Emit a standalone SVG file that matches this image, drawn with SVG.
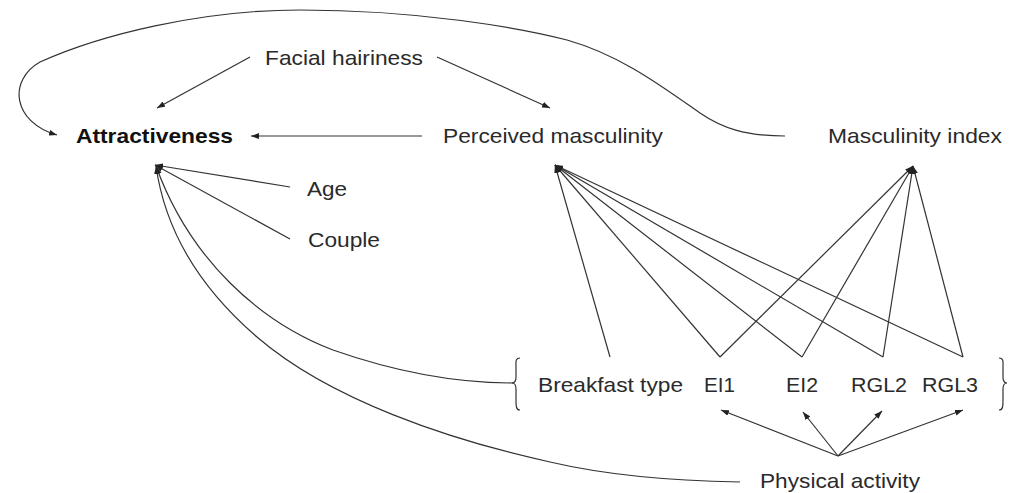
<svg xmlns="http://www.w3.org/2000/svg" width="1021" height="493" viewBox="0 0 1021 493">
  <defs>
    <marker id="ah" viewBox="0 0 8 6" refX="8" refY="3" markerWidth="8" markerHeight="6" markerUnits="userSpaceOnUse" orient="auto">
      <path d="M0,0 L8,3 L0,6 z" fill="#222"/>
    </marker>
    <style>
      .lbl { font-family: "Liberation Sans", Arial, sans-serif; font-size: 21px; fill: #2a2a2a; }
      .bold { font-weight: bold; fill: #111; }
      .c { fill: none; stroke: #333; stroke-width: 1.2; }
      .a { marker-end: url(#ah); }
    </style>
  </defs>
  <rect width="1021" height="493" fill="#fff"/>

  <g id="connectors">
    <line class="c a" x1="250" y1="57" x2="157" y2="108"/>
    <line class="c a" x1="437" y1="57" x2="550" y2="108"/>
    <line class="c a" x1="422" y1="136" x2="251" y2="136"/>
    <path class="c a" d="M785,136 C745,136 722,128 700,113 C660,85 620,55 567,40 C520,28 420,10 300,10 C200,10 100,35 40,62 C8,80 12,122 57,135"/>
    <line class="c a" x1="290" y1="187" x2="155" y2="165"/>
    <line class="c a" x1="290" y1="239" x2="155" y2="165"/>
    <path class="c a" d="M513,383 C450,383 390,370 333,350 C260,322 190,260 156,166"/>
    <path class="c a" d="M740,482 C680,481 610,476 550,462 C450,440 330,400 257,337 C200,288 165,230 156,166"/>
    <line class="c a" x1="610" y1="357" x2="555" y2="165"/>
    <line class="c a" x1="720" y1="357" x2="555" y2="165"/>
    <line class="c a" x1="802" y1="357" x2="555" y2="165"/>
    <line class="c a" x1="883" y1="357" x2="555" y2="165"/>
    <line class="c a" x1="963" y1="357" x2="555" y2="165"/>
    <line class="c a" x1="720" y1="357" x2="913" y2="166"/>
    <line class="c a" x1="802" y1="357" x2="913" y2="166"/>
    <line class="c a" x1="883" y1="357" x2="913" y2="166"/>
    <line class="c a" x1="963" y1="357" x2="913" y2="166"/>
    <line class="c a" x1="838" y1="456" x2="721" y2="410"/>
    <line class="c a" x1="838" y1="456" x2="803" y2="412"/>
    <line class="c a" x1="838" y1="456" x2="882" y2="411"/>
    <line class="c a" x1="838" y1="456" x2="963" y2="410"/>
    <path class="c" d="M520,358 C515,358 516,362 516,367 L516,377 C516,381 515,383 512,383 C515,383 516,385 516,389 L516,400 C516,406 516,410 520,410"/>
    <path class="c" d="M999,358 C1004,358 1003,362 1003,367 L1003,377 C1003,381 1004,383 1007,383 C1004,383 1003,385 1003,389 L1003,400 C1003,406 1003,410 999,410"/>
  </g>

  <g id="node-facial-hairiness"><text class="lbl" x="265" y="65" textLength="158" lengthAdjust="spacingAndGlyphs">Facial hairiness</text></g>
  <g id="node-attractiveness"><text class="lbl bold" x="76" y="143" textLength="157" lengthAdjust="spacingAndGlyphs">Attractiveness</text></g>
  <g id="node-perceived-masculinity"><text class="lbl" x="443" y="143" textLength="220" lengthAdjust="spacingAndGlyphs">Perceived masculinity</text></g>
  <g id="node-masculinity-index"><text class="lbl" x="828" y="143" textLength="174" lengthAdjust="spacingAndGlyphs">Masculinity index</text></g>
  <g id="node-age"><text class="lbl" x="307" y="196" textLength="40" lengthAdjust="spacingAndGlyphs">Age</text></g>
  <g id="node-couple"><text class="lbl" x="308" y="247" textLength="72" lengthAdjust="spacingAndGlyphs">Couple</text></g>
  <g id="node-breakfast-type"><text class="lbl" x="538" y="392" textLength="145" lengthAdjust="spacingAndGlyphs">Breakfast type</text></g>
  <g id="node-ei1"><text class="lbl" x="704" y="392" textLength="31" lengthAdjust="spacingAndGlyphs">EI1</text></g>
  <g id="node-ei2"><text class="lbl" x="786" y="392" textLength="32" lengthAdjust="spacingAndGlyphs">EI2</text></g>
  <g id="node-rgl2"><text class="lbl" x="851" y="392" textLength="56" lengthAdjust="spacingAndGlyphs">RGL2</text></g>
  <g id="node-rgl3"><text class="lbl" x="922" y="392" textLength="56" lengthAdjust="spacingAndGlyphs">RGL3</text></g>
  <g id="node-physical-activity"><text class="lbl" x="760" y="488" textLength="160" lengthAdjust="spacingAndGlyphs">Physical activity</text></g>
</svg>
